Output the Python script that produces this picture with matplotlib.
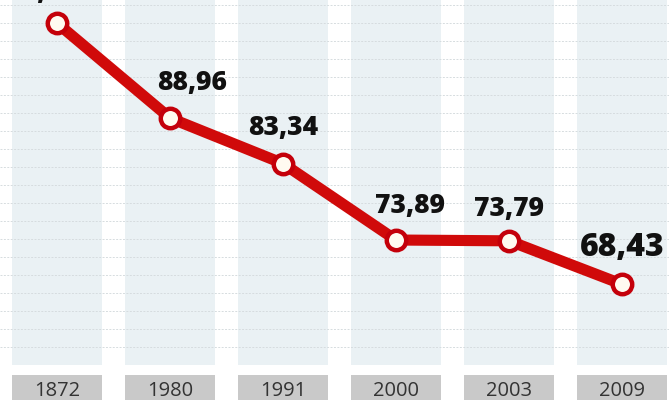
import numpy as np
import matplotlib
matplotlib.use("Agg")
import matplotlib.pyplot as plt

# data
years = ["1872", "1980", "1991", "2000", "2003", "2009"]
values = [100.70, 88.96, 83.34, 73.89, 73.79, 68.43]
# label offsets in pixels (dx, dy) and font sizes
label_dx = [-22, 22, 0, 14, 0, 0]
label_dy = [24, 28, 29, 27, 25, 28]
label_size = [19, 19, 19, 19, 19, 23]

x = np.arange(len(years))
fig = plt.figure(figsize=(6.69, 4.00), dpi=100)

# main plot area
ax = fig.add_axes([0, 35 / 400, 1, 365 / 400])
ax.set_xlim(-0.504, 5.416)
ax.set_ylim(58.45, 103.54)

# background columns
for xi in x:
    ax.axvspan(xi - 0.4, xi + 0.4, color="#eaf1f4", zorder=0, lw=0)

# dotted horizontal lines
for yv in np.arange(103.54 - 5 / 8.095, 58.45, -18 / 8.095):
    ax.axhline(yv, color="#d6dcdf", lw=0.7, ls=(0, (2, 1.5)), zorder=1)

ax.plot(x, values, color="#d00a0a", lw=8, solid_joinstyle="round",
        solid_capstyle="round", zorder=3,
        marker="o", ms=14, mfc="#fffaf0", mec="#c4000a", mew=3.2)

for xi, v, dx, dy, fs in zip(x, values, label_dx, label_dy, label_size):
    ax.annotate(f"{v:.2f}".replace(".", ","), (xi, v),
                xytext=(dx, dy), textcoords="offset pixels",
                ha="center", va="baseline", fontsize=fs, fontweight="heavy",
                family=["Open Sans", "DejaVu Sans"], color="#111111",
                annotation_clip=False, zorder=4)
ax.axis("off")

# year boxes at the bottom
ax2 = fig.add_axes([0, 0, 1, 25 / 400])
ax2.set_xlim(-0.504, 5.416)
ax2.set_ylim(0, 1)
ax2.bar(x, 1, width=0.8, color="#c9c9c9")
for xi, yr in zip(x, years):
    ax2.text(xi, 0.36, yr, ha="center", va="center", fontsize=14.5,
             family=["Open Sans", "DejaVu Sans"], color="#333333")
ax2.axis("off")

fig.savefig("out.png", dpi=100)
